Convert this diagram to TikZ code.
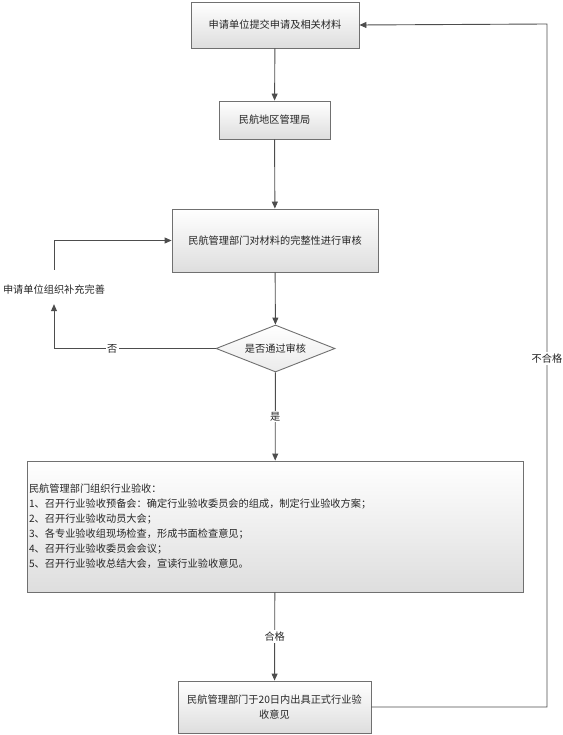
\documentclass[tikz,border=0pt]{standalone}
\usepackage{fontspec}
\setmainfont{Noto Sans CJK SC}
\usetikzlibrary{arrows.meta,shapes.geometric,calc}
\definecolor{boxline}{HTML}{707070}
\definecolor{conn}{HTML}{4D4D4D}
\begin{document}
\begin{tikzpicture}[x=1pt,y=-1pt,
  every node/.style={font=\fontsize{10.2pt}{15pt}\selectfont, text=black!85},
  proc/.style={draw=boxline, line width=0.9pt, top color=white, bottom color=black!13, inner sep=0pt, align=center},
  decide/.style={diamond, draw=boxline, line width=0.9pt, top color=white, bottom color=black!8, inner sep=0pt, aspect=2.53},
  link/.style={draw=conn, line width=0.9pt},
  arr/.style={link, -{Triangle[length=7pt,width=6pt]}},
  lab/.style={fill=white, inner sep=1.5pt}]
\useasboundingbox (0,0) rectangle (562,735);
\node[proc, minimum width=168pt, minimum height=46pt] (b1) at (275,25) {申请单位提交申请及相关材料};
\node[proc, minimum width=111pt, minimum height=38pt] (b2) at (274.5,120) {民航地区管理局};
\node[proc, minimum width=206pt, minimum height=63pt] (b3) at (275,240.5) {民航管理部门对材料的完整性进行审核};
\node[decide, minimum width=119pt, minimum height=47pt] (d) at (275.5,348.5) {是否通过审核};
\node[inner sep=0pt, minimum height=24pt] (fix) at (54,290) {申请单位组织补充完善};
\node[proc, minimum width=496pt, minimum height=131pt, text width=492pt, align=left, inner xsep=2pt] (b4) at (275,526.5) {民航管理部门组织行业验收：\\
1、召开行业验收预备会：确定行业验收委员会的组成，制定行业验收方案；\\
2、召开行业验收动员大会；\\
3、各专业验收组现场检查，形成书面检查意见；\\
4、召开行业验收委员会会议；\\
5、召开行业验收总结大会，宣读行业验收意见。};
\node[proc, minimum width=193pt, minimum height=52pt] (b5) at (274.5,707) {民航管理部门于20日内出具正式行业验\\收意见};
\coordinate (rc) at (547,24);

\draw[arr] (b1) -- (b2);
\draw[arr] (b2) -- (b3);
\draw[arr] (b3) -- (d);
\draw[arr] (d) -- node[lab] {是} (b4);
\draw[arr] (b4) -- node[lab] {合格} (b5);
\draw[arr] (d.west) -| node[lab, pos=0.32] {否} ([yshift=-2pt]fix.south);
\draw[arr] ([yshift=8pt]fix.north) |- (b3.west);
\draw[arr] (b5.east) -| node[lab, pos=0.755] {不合格} (rc) -- (b1.east);
\end{tikzpicture}
\end{document}
